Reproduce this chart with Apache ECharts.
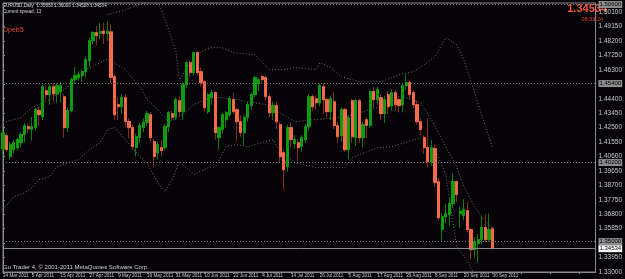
<!DOCTYPE html>
<html>
<head>
<meta charset="utf-8">
<script src="https://cdn.jsdelivr.net/npm/echarts@6/dist/echarts.min.js"></script>
<style>
html, body { margin: 0; padding: 0; background: #060308; }
#chart { width: 625px; height: 279px; }
</style>
</head>
<body>
<div id="chart"></div>
<script>
// EURUSD daily, bar 0 = 24 Mar 2011 ... bar 136 = 30 Sep 2011
var opens = [1.4110, 1.4197, 1.4059, 1.4105, 1.4118, 1.4151, 1.4204, 1.4256, 1.4238, 1.4250,
  1.4362, 1.4322, 1.4493, 1.4467, 1.4519, 1.4472, 1.4486, 1.4453, 1.4250, 1.4362,
  1.4566, 1.4578, 1.4592, 1.4618, 1.4690, 1.4822, 1.4875, 1.4870, 1.4885, 1.4870,
  1.4880, 1.4585, 1.4401, 1.4388, 1.4447, 1.4290, 1.4250, 1.4120, 1.4185, 1.4250,
  1.4283, 1.4335, 1.4158, 1.4085, 1.4118, 1.4118, 1.4256, 1.4342, 1.4322, 1.4427,
  1.4355, 1.4533, 1.4677, 1.4612, 1.4743, 1.4618, 1.4552, 1.4355, 1.4447, 1.4480,
  1.4184, 1.4237, 1.4302, 1.4335, 1.4434, 1.4368, 1.4289, 1.4217, 1.4316, 1.4395,
  1.4467, 1.4540, 1.4586, 1.4580, 1.4454, 1.4348, 1.4395, 1.4270, 1.4085, 1.3993,
  1.4250, 1.4145, 1.4151, 1.4125, 1.4171, 1.4256, 1.4454, 1.4440, 1.4414, 1.4520,
  1.4434, 1.4355, 1.4420, 1.4263, 1.4197, 1.4368, 1.4105, 1.4427, 1.4184, 1.4427,
  1.4184, 1.4302, 1.4265, 1.4487, 1.4434, 1.4447, 1.4342, 1.4467, 1.4395, 1.4480,
  1.4434, 1.4401, 1.4526, 1.4546, 1.4480, 1.4401, 1.4289, 1.4184, 1.4118, 1.4026,
  1.4112, 1.3894, 1.3580, 1.3664, 1.3677, 1.3750, 1.3895, 1.3684, 1.3671, 1.3704,
  1.3579, 1.3447, 1.3487, 1.3513, 1.3592, 1.3513, 1.35838];
var closes = [1.4215, 1.4105, 1.4138, 1.4151, 1.4171, 1.4204, 1.4263, 1.4243, 1.4255, 1.4368,
  1.4336, 1.4519, 1.4467, 1.4519, 1.4472, 1.4526, 1.4526, 1.4250, 1.4362, 1.4566,
  1.4592, 1.4600, 1.4618, 1.4697, 1.4822, 1.4875, 1.4855, 1.4882, 1.4870, 1.4885,
  1.4579, 1.4335, 1.4388, 1.4447, 1.4290, 1.4250, 1.4125, 1.4190, 1.4263, 1.4285,
  1.4342, 1.4184, 1.4059, 1.4138, 1.4098, 1.4256, 1.4348, 1.4316, 1.4434, 1.4355,
  1.4533, 1.4677, 1.4612, 1.4743, 1.4612, 1.4546, 1.4381, 1.4467, 1.4480, 1.4217,
  1.4250, 1.4335, 1.4348, 1.4440, 1.4355, 1.4289, 1.4217, 1.4316, 1.4401, 1.4467,
  1.4579, 1.4566, 1.4566, 1.4454, 1.4348, 1.4395, 1.4289, 1.4059, 1.3973, 1.4250,
  1.4171, 1.4171, 1.4118, 1.4184, 1.4256, 1.4454, 1.4388, 1.4414, 1.4526, 1.4434,
  1.4355, 1.4440, 1.4263, 1.4190, 1.4368, 1.4105, 1.4315, 1.4190, 1.4427, 1.4184,
  1.4270, 1.4265, 1.4487, 1.4434, 1.4500, 1.4342, 1.4434, 1.4388, 1.4480, 1.4401,
  1.4395, 1.4526, 1.4546, 1.4467, 1.4401, 1.4289, 1.4237, 1.4118, 1.4026, 1.4118,
  1.3888, 1.3657, 1.3664, 1.3684, 1.3750, 1.3895, 1.3810, 1.3700, 1.3710, 1.3579,
  1.3447, 1.3500, 1.3513, 1.3592, 1.3513, 1.3579, 1.34534];
var lows = [1.4070, 1.4090, 1.4039, 1.4080, 1.4100, 1.4120, 1.4150, 1.4215, 1.4165, 1.4230,
  1.4260, 1.4300, 1.4430, 1.4400, 1.4420, 1.4410, 1.4414, 1.4184, 1.4220, 1.4350,
  1.4540, 1.4560, 1.4550, 1.4580, 1.4650, 1.4800, 1.4790, 1.4830, 1.4800, 1.4820,
  1.4540, 1.4300, 1.4300, 1.4340, 1.4250, 1.4180, 1.4100, 1.4059, 1.4150, 1.4220,
  1.4260, 1.4160, 1.3987, 1.4040, 1.4060, 1.4100, 1.4220, 1.4300, 1.4300, 1.4320,
  1.4300, 1.4510, 1.4580, 1.4590, 1.4590, 1.4520, 1.4355, 1.4340, 1.4400, 1.4171,
  1.4105, 1.4210, 1.4250, 1.4320, 1.4340, 1.4160, 1.4190, 1.4130, 1.4290, 1.4370,
  1.4450, 1.4490, 1.4540, 1.4430, 1.4320, 1.4300, 1.4240, 1.4020, 1.3842, 1.3960,
  1.4120, 1.4110, 1.4026, 1.4090, 1.4150, 1.4230, 1.4360, 1.4370, 1.4390, 1.4340,
  1.4320, 1.4300, 1.4240, 1.4150, 1.4160, 1.4090, 1.4040, 1.4150, 1.4130, 1.4150,
  1.4120, 1.4180, 1.4250, 1.4380, 1.4400, 1.4300, 1.4280, 1.4340, 1.4360, 1.4360,
  1.4350, 1.4350, 1.4500, 1.4440, 1.4380, 1.4270, 1.4200, 1.4080, 1.3990, 1.4000,
  1.3860, 1.3640, 1.3500, 1.3620, 1.3600, 1.3720, 1.3757, 1.3590, 1.3640, 1.3560,
  1.3385, 1.3390, 1.3360, 1.3480, 1.3500, 1.3500, 1.34520];
var highs = [1.4250, 1.4215, 1.4158, 1.4170, 1.4185, 1.4215, 1.4280, 1.4275, 1.4320, 1.4380,
  1.4390, 1.4530, 1.4520, 1.4535, 1.4540, 1.4545, 1.4552, 1.4470, 1.4380, 1.4580,
  1.4650, 1.4620, 1.4630, 1.4720, 1.4840, 1.4885, 1.4920, 1.4940, 1.4940, 1.4950,
  1.4930, 1.4600, 1.4450, 1.4470, 1.4470, 1.4310, 1.4270, 1.4210, 1.4280, 1.4310,
  1.4360, 1.4350, 1.4175, 1.4160, 1.4170, 1.4270, 1.4360, 1.4360, 1.4450, 1.4460,
  1.4545, 1.4690, 1.4695, 1.4750, 1.4755, 1.4645, 1.4565, 1.4480, 1.4500, 1.4490,
  1.4260, 1.4350, 1.4360, 1.4460, 1.4480, 1.4380, 1.4330, 1.4330, 1.4420, 1.4480,
  1.4590, 1.4580, 1.4600, 1.4590, 1.4470, 1.4420, 1.4420, 1.4290, 1.4100, 1.4270,
  1.4280, 1.4200, 1.4170, 1.4200, 1.4270, 1.4470, 1.4470, 1.4460, 1.4540, 1.4540,
  1.4450, 1.4460, 1.4480, 1.4290, 1.4380, 1.4380, 1.4330, 1.4440, 1.4440, 1.4440,
  1.4290, 1.4320, 1.4500, 1.4520, 1.4520, 1.4470, 1.4460, 1.4490, 1.4500, 1.4500,
  1.4460, 1.4540, 1.4600, 1.4560, 1.4500, 1.4430, 1.4310, 1.4200, 1.4310, 1.4170,
  1.4140, 1.3920, 1.3690, 1.3745, 1.3790, 1.3950, 1.3900, 1.3730, 1.3780, 1.3760,
  1.3590, 1.3530, 1.3550, 1.3670, 1.3680, 1.3684, 1.36008];

// envelope lines, read at sampled bars
var upperIdx = [29, 34, 38, 42, 44, 46, 48, 49, 52, 55, 58, 61, 64, 70, 74, 78, 81, 87, 88, 91, 94, 99, 105, 110, 114, 117, 120, 123, 126, 128, 131, 134, 136];
var upperVal = [1.4993, 1.5026, 1.5059, 1.5092, 1.5026, 1.4895, 1.4750, 1.4566, 1.4677, 1.4750, 1.4776, 1.4776, 1.4743, 1.4730, 1.4631, 1.4631, 1.4645, 1.4631, 1.4677, 1.4645, 1.4585, 1.4552, 1.4552, 1.4599, 1.4618, 1.4664, 1.4717, 1.4842, 1.4796, 1.4697, 1.4480, 1.4256, 1.4118];
var midIdx = [0, 5, 8, 13, 18, 20, 23, 27, 29, 34, 38, 40, 43, 46, 49, 53, 58, 65, 73, 81, 95, 104, 111, 116, 119, 123, 126, 128, 131, 133, 136];
var midVal = [1.4283, 1.4316, 1.4381, 1.4434, 1.4520, 1.4585, 1.4631, 1.4677, 1.4704, 1.4631, 1.4520, 1.4434, 1.4368, 1.4289, 1.4322, 1.4401, 1.4454, 1.4434, 1.4401, 1.4289, 1.4322, 1.4381, 1.4454, 1.4414, 1.4302, 1.4125, 1.3993, 1.3862, 1.3730, 1.3664, 1.3585];
var lowerIdx = [0, 3, 6, 8, 10, 13, 15, 18, 21, 24, 27, 29, 31, 34, 38, 40, 43, 45, 47, 49, 53, 57, 59, 62, 65, 68, 75, 76, 81, 87, 95, 97, 104, 108, 116, 117, 120, 123, 126, 129, 131];
var lowerVal = [1.3710, 1.3796, 1.3822, 1.3855, 1.3908, 1.3927, 1.3993, 1.4019, 1.4039, 1.4105, 1.4151, 1.4237, 1.4250, 1.4171, 1.4059, 1.4019, 1.3888, 1.3829, 1.3908, 1.4026, 1.3941, 1.3987, 1.3993, 1.4125, 1.4138, 1.4125, 1.4171, 1.4125, 1.4019, 1.3987, 1.3987, 1.4052, 1.4118, 1.4125, 1.4184, 1.4158, 1.4105, 1.3941, 1.3467, 1.3368, 1.3283];

var levels = [1.5060, 1.4540, 1.4020, 1.3500];
var bid = 1.34534;
var tickDates = ['24 Mar 2011', '5 Apr 2011', '15 Apr 2011', '27 Apr 2011', '9 May 2011', '19 May 2011',
  '31 May 2011', '10 Jun 2011', '22 Jun 2011', '4 Jul 2011', '14 Jul 2011', '26 Jul 2011',
  '5 Aug 2011', '17 Aug 2011', '29 Aug 2011', '8 Sep 2011', '20 Sep 2011', '30 Sep 2011'];

var FONT = 'Liberation Sans';
var chart = echarts.init(document.getElementById('chart'));

var candles = opens.map(function (o, i) { return [i, o, closes[i], lows[i], highs[i]]; });
var bodies = opens.map(function (o, i) {
  return [i, o, closes[i], Math.min(o, closes[i]), Math.max(o, closes[i])];
});
function pairs(xs, ys) { return xs.map(function (x, k) { return [x, ys[k]]; }); }

var dotted = { color: '#6e6e6e', width: 1, type: [1, 2] };
var boxLabel = {
  show: true,
  position: 'end',
  distance: 3,
  fontSize: 6,
  fontFamily: FONT,
  padding: [1, 1, 0, 1],
  color: '#000',
  formatter: function (p) { return Number(p.value).toFixed(5); }
};

chart.setOption({
  backgroundColor: '#060308',
  animation: false,
  textStyle: { fontFamily: FONT },
  grid: { left: 2, right: 18, top: 3, bottom: 7, show: true, borderColor: '#8a8a8a', borderWidth: 1 },
  xAxis: {
    type: 'value',
    min: 0,
    max: 164.58,
    interval: 8,
    axisLine: { show: true, lineStyle: { color: '#8a8a8a' } },
    axisTick: { show: true, length: 2, lineStyle: { color: '#8a8a8a' } },
    splitLine: { show: false },
    axisLabel: {
      color: '#c8c8c8',
      fontSize: 4.6,
      fontFamily: FONT,
      align: 'left',
      margin: 1.5,
      showMinLabel: true,
      showMaxLabel: false,
      hideOverlap: false,
      formatter: function (v) {
        var k = v / 8;
        return tickDates[k] || '';
      }
    }
  },
  yAxis: {
    type: 'value',
    position: 'right',
    min: 1.33,
    max: 1.5070,
    interval: 0.0095,
    axisLine: { show: true, lineStyle: { color: '#8a8a8a' } },
    axisTick: { show: true, length: 2, lineStyle: { color: '#8a8a8a' } },
    splitLine: { show: false },
    axisLabel: {
      color: '#c8c8c8',
      fontSize: 6.5,
      fontFamily: FONT,
      margin: 3,
      showMaxLabel: false,
      formatter: function (v) { return v.toFixed(5); }
    }
  },
  series: [
    {
      name: 'wicks',
      type: 'candlestick',
      encode: { x: 0, y: [1, 2, 3, 4] },
      barWidth: 2.6,
      data: candles,
      itemStyle: { color: '#0b7d0b', color0: '#8a2a1c', borderColor: '#0b7d0b', borderColor0: '#8a2a1c', borderWidth: 1 }
    },
    {
      name: 'bodies',
      type: 'candlestick',
      encode: { x: 0, y: [1, 2, 3, 4] },
      barWidth: 2.6,
      data: bodies,
      itemStyle: { color: '#109a10', color0: '#f26a4a', borderColor: '#109a10', borderColor0: '#f26a4a', borderWidth: 1 }
    },
    {
      name: 'upper', type: 'line', symbol: 'none', data: pairs(upperIdx, upperVal),
      lineStyle: dotted, z: 1
    },
    {
      name: 'middle', type: 'line', symbol: 'none', data: pairs(midIdx, midVal),
      lineStyle: dotted, z: 1,
      markLine: {
        silent: true,
        precision: 5,
        symbol: ['none', 'none'],
        lineStyle: { color: '#8a8a8a', width: 1, type: 'solid' },
        label: Object.assign({}, boxLabel, { backgroundColor: '#ffffff' }),
        data: [{ yAxis: bid }]
      }
    },
    {
      name: 'lower', type: 'line', symbol: 'none', data: pairs(lowerIdx, lowerVal),
      lineStyle: dotted, z: 1,
      markLine: {
        silent: true,
        precision: 5,
        symbol: ['none', 'none'],
        lineStyle: { color: '#7a7a7a', width: 1, type: [1, 2] },
        label: Object.assign({}, boxLabel, { backgroundColor: '#8c8c8c' }),
        data: levels.map(function (v) { return { yAxis: v }; })
      }
    }
  ],
  graphic: [
    { type: 'text', left: 3, top: 3, style: { text: 'EURUSD,Daily  1.35838 1.36008 1.34520 1.34534', fill: '#d8d8d8', font: '4.6px "Liberation Sans"' } },
    { type: 'text', left: 3, top: 9, style: { text: 'Current spread: 13', fill: '#d8d8d8', font: '4.6px "Liberation Sans"' } },
    { type: 'text', left: 3, top: 27, style: { text: 'Dpeb5', fill: '#e0462e', font: '7px "Liberation Sans"' } },
    { type: 'text', right: 18, top: 3, style: { text: '1.34534', fill: '#f0583a', font: 'bold 11px "Liberation Sans"' } },
    { type: 'text', right: 22, top: 16, style: { text: '08:33:24', fill: '#e0462e', font: '5.5px "Liberation Sans"' } },
    { type: 'text', left: 3, top: 264, style: { text: 'Go Trader 4, \u00a9 2001-2011 MetaQuotes Software Corp.', fill: '#d0d0d0', font: '6px "Liberation Sans"' } }
  ]
});
</script>
</body>
</html>
